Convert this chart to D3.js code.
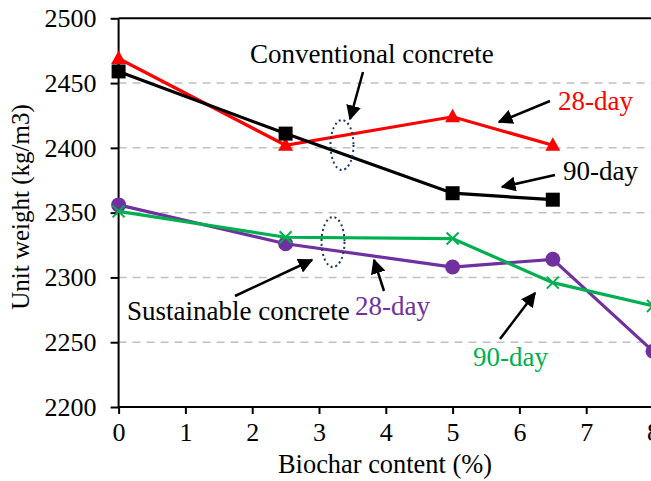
<!DOCTYPE html>
<html><head><meta charset="utf-8">
<script src="https://cdn.jsdelivr.net/npm/d3@7"></script>
<style>body{margin:0;background:#fff}svg{display:block}text{font-family:"Liberation Serif","Times New Roman",serif}</style>
</head><body>
<svg id="c" width="651" height="481"></svg>
<script>
const xTicks = [0,1,2,3,4,5,6,7,8];
const yTicks = [2200,2250,2300,2350,2400,2450,2500];
const biochar = [0,2.5,5,6.5];
const biocharS = [0,2.5,5,6.5,8];
const conv28 = [2469,2402,2424,2402];
const conv90 = [2459,2411,2365,2360];
const sust28 = [2356,2326,2308,2314,2243];
const sust90 = [2351,2331,2330,2296,2278];

const svg = d3.select("#c");
const x = d3.scaleLinear().domain([0,8]).range([118.6,653]);
const y = d3.scaleLinear().domain([2200,2500]).range([407,18.3]);

// grid
svg.append("g").selectAll("line").data(yTicks.filter(d=>d>2200&&d<2500)).join("line")
  .attr("x1",x(0)).attr("x2",651).attr("y1",d=>y(d)).attr("y2",d=>y(d))
  .attr("stroke","#c0c0c0").attr("stroke-width",1.5).attr("stroke-dasharray","8,6");
// top frame
svg.append("line").attr("x1",x(0)).attr("x2",651).attr("y1",y(2500)).attr("y2",y(2500)).attr("stroke","#000").attr("stroke-width",2);

const yAxis = svg.append("g").attr("transform",`translate(${x(0)},0)`)
  .call(d3.axisLeft(y).tickValues(yTicks).tickSize(8).tickPadding(14).tickFormat(d3.format("d")));
const xAxis = svg.append("g").attr("transform",`translate(0,${y(2200)})`)
  .call(d3.axisBottom(x).tickValues(xTicks).tickSize(7).tickPadding(9));
[yAxis,xAxis].forEach(a=>{
  a.select(".domain").attr("stroke","#000").attr("stroke-width",2);
  a.selectAll(".tick line").attr("stroke","#000").attr("stroke-width",2);
  a.selectAll("text").attr("font-size",26).attr("fill","#000").attr("font-family","Liberation Serif");
});
xAxis.select(".domain").attr("d",`M${x(0)},0H651`);
yAxis.select(".domain").attr("d",`M0,${y(2200)}V${y(2500)}`);

svg.append("text").attr("transform",`translate(29,207) rotate(-90)`).attr("text-anchor","middle")
  .attr("font-size",25).text("Unit weight (kg/m3)");
svg.append("text").attr("x",385).attr("y",473).attr("text-anchor","middle")
  .attr("font-size",26.4).text("Biochar content (%)");

const line = d3.line();
function series(xs, ys, color, marker){
  const pts = xs.map((v,i)=>[x(v),y(ys[i])]);
  svg.append("path").attr("d",line(pts)).attr("fill","none").attr("stroke",color).attr("stroke-width",3.2);
  const g = svg.append("g");
  pts.forEach(p=>{
    if(marker==="tri") g.append("path").attr("d",`M${p[0]},${p[1]-8}L${p[0]+7.5},${p[1]+5.5}L${p[0]-7.5},${p[1]+5.5}Z`).attr("fill",color);
    if(marker==="sq") g.append("rect").attr("x",p[0]-7).attr("y",p[1]-7).attr("width",14).attr("height",14).attr("fill",color);
    if(marker==="circ") g.append("circle").attr("cx",p[0]).attr("cy",p[1]).attr("r",7.5).attr("fill",color);
    if(marker==="x") g.append("path").attr("d",`M${p[0]-6},${p[1]-6}L${p[0]+6},${p[1]+6}M${p[0]+6},${p[1]-6}L${p[0]-6},${p[1]+6}`).attr("stroke",color).attr("stroke-width",2);
  });
}
series(biochar, conv28, "#ff0000", "tri");
series(biochar, conv90, "#000000", "sq");
series(biocharS, sust28, "#7030a0", "circ");
series(biocharS, sust90, "#00b050", "x");

// arrows
const defs = svg.append("defs");
defs.append("marker").attr("id","ah").attr("viewBox","0 0 10 10").attr("refX",9).attr("refY",5)
  .attr("markerWidth",6).attr("markerHeight",6).attr("markerUnits","strokeWidth").attr("orient","auto")
  .append("path").attr("d","M0,0L10,5L0,10Z").attr("fill","#000");
function arrow(x1,y1,x2,y2){
  svg.append("line").attr("x1",x1).attr("y1",y1).attr("x2",x2).attr("y2",y2)
    .attr("stroke","#000").attr("stroke-width",2.5).attr("marker-end","url(#ah)");
}
arrow(363,72,350,119);
arrow(550,101,499,122);
arrow(555,175,502,187);
arrow(235,296,312,260);
arrow(384,291,374,260);
arrow(500,339,535,293);

function ell(cx,cy){
  svg.append("ellipse").attr("cx",cx).attr("cy",cy).attr("rx",11.5).attr("ry",25)
    .attr("fill","none").attr("stroke","#1f3864").attr("stroke-width",2).attr("stroke-dasharray","2,3");
}
ell(342,145); ell(333,242);

function lbl(t,x0,y0,c){ svg.append("text").attr("x",x0).attr("y",y0).attr("font-size",27).attr("fill",c).text(t); }
lbl("Conventional concrete",250,63,"#000");
lbl("28-day",558,110,"#ff0000");
lbl("90-day",563,180,"#000");
lbl("Sustainable concrete",127,320,"#000");
lbl("28-day",355,315,"#7030a0");
lbl("90-day",473,366,"#00b050");
</script>
</body></html>
